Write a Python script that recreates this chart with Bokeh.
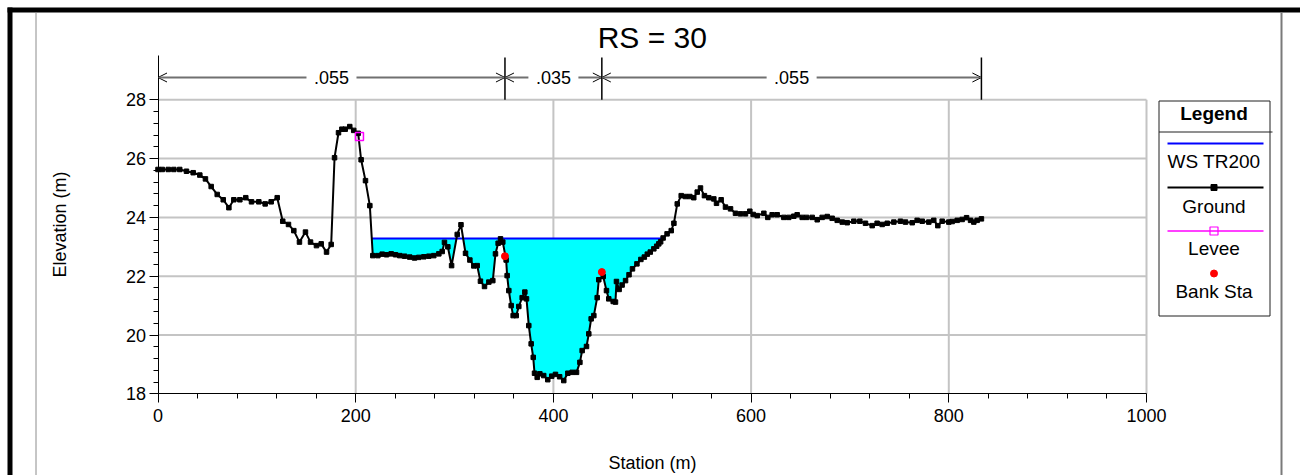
import numpy as np
from bokeh.plotting import figure
from bokeh.models import Range1d, FixedTicker, Label, Arrow, OpenHead
from bokeh.embed import file_html
from bokeh.resources import INLINE

# ---------------- data ----------------
title_text = "RS = 30"
x_label = "Station (m)"
y_label = "Elevation (m)"

ground_sta = [0.0, 4.3, 10.4, 16.0, 22.0, 28.8, 35.6, 42.3, 48.0, 53.8, 59.9, 66.0, 71.7,
              76.7, 82.8, 88.8, 94.6, 102.0, 108.4, 114.5, 120.6, 126.2, 132.0, 137.4,
              143.1, 149.2, 154.3, 160.3, 165.1, 170.5, 175.2, 178.6, 182.6, 186.0, 189.4,
              194.0, 198.0, 202.5, 205.5, 209.9, 214.3, 217.3, 222.4, 226.8, 231.2, 235.9,
              240.3, 244.6, 249.4, 254.7, 259.5, 263.8, 268.9, 274.0, 279.0, 284.1, 287.5,
              289.8, 293.2, 297.0, 302.7, 306.5, 311.1, 315.5, 319.5, 322.9, 326.2, 330.3,
              334.7, 338.7, 341.4, 344.1, 346.5, 348.8, 352.2, 353.2, 354.9, 357.3, 359.3,
              362.4, 365.0, 368.4, 371.1, 372.8, 375.1, 377.5, 379.6, 380.9, 383.6, 386.3,
              390.2, 394.3, 398.3, 402.1, 406.3, 410.5, 414.6, 419.0, 423.4, 426.8, 429.1,
              433.5, 435.8, 438.2, 440.9, 444.3, 445.9, 450.4, 453.7, 456.0, 460.5, 462.8,
              463.8, 466.5, 469.5, 473.0, 476.5, 480.0, 484.5, 488.5, 492.0, 495.0, 498.0,
              501.6, 504.5, 506.6, 508.5, 511.0, 515.0, 519.2, 521.9, 525.3, 529.3, 533.6,
              538.0, 542.0, 545.5, 548.8, 552.8, 557.2, 562.3, 565.0, 569.7, 574.1, 579.2,
              584.2, 589.3, 594.3, 598.7, 602.1, 606.2, 612.9, 616.9, 621.3, 626.4, 633.1,
              638.1, 643.2, 646.6, 651.7, 656.1, 661.8, 666.9, 671.9, 677.0, 682.0, 687.1,
              692.2, 697.2, 703.9, 710.0, 715.7, 722.5, 727.5, 732.6, 737.7, 744.4, 751.1,
              756.2, 763.0, 768.0, 773.1, 779.8, 784.8, 788.9, 793.3, 800.0, 803.4, 808.5,
              813.5, 818.0, 822.0, 825.3, 828.7, 833.0]
ground_elev = [25.63, 25.63, 25.63, 25.63, 25.63, 25.57, 25.52, 25.44, 25.31, 25.05, 24.78,
               24.60, 24.33, 24.60, 24.60, 24.67, 24.53, 24.53, 24.46, 24.53, 24.67, 23.87,
               23.76, 23.55, 23.16, 23.50, 23.16, 23.04, 23.10, 22.82, 23.08, 26.03, 26.88,
               27.00, 27.00, 27.09, 26.96, 26.86, 25.96, 25.25, 24.40, 22.70, 22.70, 22.75,
               22.73, 22.76, 22.73, 22.70, 22.68, 22.65, 22.62, 22.64, 22.66, 22.68, 22.70,
               22.76, 22.84, 23.15, 23.00, 22.36, 23.42, 23.75, 22.78, 22.55, 22.35, 22.36,
               21.83, 21.65, 21.80, 21.85, 22.76, 23.12, 23.27, 23.16, 22.55, 22.02, 21.51,
               21.00, 20.66, 20.66, 20.97, 21.27, 21.46, 21.23, 20.32, 19.70, 19.24, 18.70,
               18.56, 18.68, 18.62, 18.48, 18.60, 18.66, 18.58, 18.45, 18.70, 18.73, 18.73,
               19.07, 19.47, 19.61, 20.04, 20.55, 20.66, 21.27, 21.88, 21.99, 21.51, 21.23,
               21.14, 21.12, 21.82, 21.55, 21.70, 21.85, 22.05, 22.25, 22.42, 22.57, 22.65,
               22.75, 22.82, 22.93, 23.02, 23.10, 23.17, 23.30, 23.44, 23.55, 23.80, 24.46,
               24.74, 24.71, 24.71, 24.67, 24.86, 25.00, 24.74, 24.67, 24.63, 24.48, 24.60,
               24.35, 24.29, 24.14, 24.12, 24.12, 24.21, 24.10, 24.06, 24.14, 24.00, 24.09,
               24.09, 24.00, 24.00, 24.04, 24.09, 24.00, 24.00, 24.00, 23.92, 24.00, 24.03,
               23.97, 23.90, 23.84, 23.82, 23.87, 23.87, 23.80, 23.72, 23.80, 23.76, 23.80,
               23.84, 23.87, 23.84, 23.82, 23.90, 23.87, 23.84, 23.90, 23.72, 23.87, 23.84,
               23.86, 23.90, 23.93, 23.99, 23.90, 23.84, 23.90, 23.95]

ws_name = "WS TR200"
ws_elev = 23.28

levee_sta = [203.8]
levee_elev = [26.75]

bank_sta = [351.0, 449.0]
bank_elev = [22.68, 22.14]

n_breaks = [0.0, 351.0, 449.0, 833.0]
n_values = [".055", ".035", ".055"]

x_ticks = [0, 200, 400, 600, 800, 1000]
y_ticks = [18, 20, 22, 24, 26, 28]

legend_title = "Legend"
legend_labels = [ws_name, "Ground", "Levee", "Bank Sta"]

# ---------------- layout constants (pixels) ----------------
W, H = 1300, 475
FONT = "Liberation Sans"
GRID = "#c4c4c4"
PX_X0, PX_X1 = 157.5, 1146.0      # pixel column of first / last x tick
PY_Y1, PY_Y0 = 99.3, 393.3        # pixel row of top / bottom y tick
sx = (PX_X1 - PX_X0) / (x_ticks[-1] - x_ticks[0])
sy = (PY_Y0 - PY_Y1) / (y_ticks[-1] - y_ticks[0])


def dx(px):
    return x_ticks[0] + (px - PX_X0) / sx


def dy(py):
    return y_ticks[-1] - (py - PY_Y1) / sy


p = figure(width=W, height=H, output_backend="svg", toolbar_location=None, title=None,
           x_range=Range1d(dx(0), dx(W)), y_range=Range1d(dy(H), dy(0)),
           min_border=0)
p.background_fill_color = "white"
p.border_fill_color = "white"
p.outline_line_color = None
p.xgrid.visible = False
p.ygrid.visible = False

x_minor = [v for v in range(0, 1001, 40) if v not in x_ticks]
y_minor = [round(18 + 0.4 * k, 1) for k in range(26) if round(18 + 0.4 * k, 1) not in y_ticks]
p.xaxis.ticker = FixedTicker(ticks=x_ticks, minor_ticks=x_minor)
p.yaxis.ticker = FixedTicker(ticks=y_ticks, minor_ticks=y_minor)
p.xaxis.fixed_location = y_ticks[0]
p.yaxis.fixed_location = x_ticks[0]
p.xaxis.bounds = (x_ticks[0], x_ticks[-1])
p.yaxis.bounds = (y_ticks[0], dy(55))

for ax in (p.xaxis[0], p.yaxis[0]):
    ax.axis_line_color = "black"
    ax.axis_line_width = 1
    ax.major_tick_line_color = "black"
    ax.minor_tick_line_color = "black"
    ax.major_tick_out = 9
    ax.major_tick_in = 0
    ax.minor_tick_out = 5
    ax.minor_tick_in = 0
    ax.major_label_text_font = FONT
    ax.major_label_text_font_size = "18px"
    ax.major_label_text_color = "black"
    ax.axis_label_text_font = FONT
    ax.axis_label_text_font_size = "18px"
    ax.axis_label_text_font_style = "normal"
    ax.axis_label_text_color = "black"

p.xaxis.axis_label = x_label
p.yaxis.axis_label = y_label
p.xaxis.major_label_standoff = 6
p.yaxis.major_label_standoff = 3
p.xaxis.axis_label_standoff = 28
p.yaxis.axis_label_standoff = 53

# grid lines (inside the tick box only)
gxl = x_ticks[1:]
p.segment(x0=gxl, y0=[y_ticks[0]] * len(gxl), x1=gxl, y1=[y_ticks[-1]] * len(gxl),
          line_color=GRID, line_width=2)
gyl = y_ticks[1:]
p.segment(x0=[x_ticks[0]] * len(gyl), y0=gyl, x1=[x_ticks[-1]] * len(gyl), y1=gyl,
          line_color=GRID, line_width=2)

# ---------------- water fill ----------------
gx = np.array(ground_sta)
gy = np.array(ground_elev)
fx, fy, fc = [], [], []
for i in range(len(gx) - 1):
    x0, y0, x1, y1 = gx[i], gy[i], gx[i + 1], gy[i + 1]
    fx.append(x0)
    fy.append(min(y0, ws_elev))
    fc.append(False)
    if (y0 - ws_elev) * (y1 - ws_elev) < 0:
        t = (ws_elev - y0) / (y1 - y0)
        fx.append(x0 + t * (x1 - x0))
        fy.append(ws_elev)
        fc.append(True)
fx.append(gx[-1])
fy.append(min(gy[-1], ws_elev))
fc.append(False)
fx, fy, fc = np.array(fx), np.array(fy), np.array(fc)
xl = fx[fc & (fx > levee_sta[0])].min()
xr = fx[fc & (fx > bank_sta[1])].min()
mask = (fx >= xl) & (fx <= xr)
p.varea(x=fx[mask], y1=fy[mask], y2=[ws_elev] * int(mask.sum()), fill_color="#00ffff")
p.line([xl, xr], [ws_elev, ws_elev], line_color="#0000ff", line_width=2)

# ---------------- ground, levee, bank stations ----------------
p.line(ground_sta, ground_elev, line_color="black", line_width=2)
p.scatter(ground_sta, ground_elev, marker="square", size=4.5, color="black")
p.scatter(levee_sta, levee_elev, marker="square", size=8, fill_color=None,
          line_color="#ff00ff", line_width=1.5)
p.scatter(bank_sta, bank_elev, marker="circle", size=7, color="#ff0000")

# ---------------- n-value brackets ----------------
n_y = dy(77)
top_y = dy(57)
p.segment(x0=n_breaks[1:], y0=[y_ticks[-1]] * 3, x1=n_breaks[1:], y1=[top_y] * 3,
          line_color="black", line_width=1.5)
for i, txt in enumerate(n_values):
    xa, xb = n_breaks[i], n_breaks[i + 1]
    xm = (xa + xb) / 2
    g = 25.0 / sx
    for xs, xe in ((xm - g, xa), (xm + g, xb)):
        p.add_layout(Arrow(x_start=xs, y_start=n_y, x_end=xe, y_end=n_y,
                           line_color="#707070", line_width=2,
                           end=OpenHead(size=9, line_color="black", line_width=1)))
    p.add_layout(Label(x=xm, y=n_y, text=txt, text_align="center", text_baseline="middle",
                       text_font=FONT, text_font_size="18px", text_color="black"))

# ---------------- title ----------------
p.add_layout(Label(x=(x_ticks[0] + x_ticks[-1]) / 2, y=dy(37), text=title_text,
                   text_align="center", text_baseline="middle", text_font=FONT,
                   text_font_size="30px", text_color="black"))

# ---------------- window frame ----------------
p.quad(left=dx(7), right=dx(W), top=dy(7), bottom=dy(12), fill_color="black", line_color=None)
p.quad(left=dx(7), right=dx(12), top=dy(7), bottom=dy(H), fill_color="black", line_color=None)
p.segment(x0=dx(35.5), y0=dy(12), x1=dx(35.5), y1=dy(H), line_color="#8c8c8c", line_width=1)
p.segment(x0=dx(1281), y0=dy(12), x1=dx(1281), y1=dy(H), line_color="#7a7a7a", line_width=2)

# ---------------- legend ----------------
LC = 1213.5
p.quad(left=dx(1158.5), right=dx(1269.5), top=dy(100.5), bottom=dy(315.5),
       fill_color="white", line_color="#202020", line_width=1)
p.segment(x0=dx(1158.5), y0=dy(131.5), x1=dx(1272), y1=dy(131.5), line_color="#202020",
          line_width=1)
p.segment(x0=dx(1167), y0=dy(143), x1=dx(1263), y1=dy(143), line_color="#0000ff", line_width=2)
p.segment(x0=dx(1167), y0=dy(187), x1=dx(1263), y1=dy(187), line_color="black", line_width=2)
p.scatter([dx(LC)], [dy(187)], marker="square", size=6, color="black")
p.segment(x0=dx(1167), y0=dy(230.5), x1=dx(1263), y1=dy(230.5), line_color="#ff00ff",
          line_width=1.3)
p.scatter([dx(LC)], [dy(230.5)], marker="square", size=8, fill_color=None,
          line_color="#ff00ff", line_width=1.2)
p.scatter([dx(LC)], [dy(273)], marker="circle", size=7, color="#ff0000")

p.add_layout(Label(x=dx(LC), y=dy(113), text=legend_title, text_align="center",
                   text_baseline="middle", text_font=FONT, text_font_size="19px",
                   text_font_style="bold", text_color="black"))
for lab, py in zip(legend_labels, [161, 206, 248, 291]):
    p.add_layout(Label(x=dx(LC), y=dy(py), text=lab, text_align="center",
                       text_baseline="middle", text_font=FONT, text_font_size="19px",
                       text_color="black"))

open("out.html", "w").write(file_html(p, INLINE))
